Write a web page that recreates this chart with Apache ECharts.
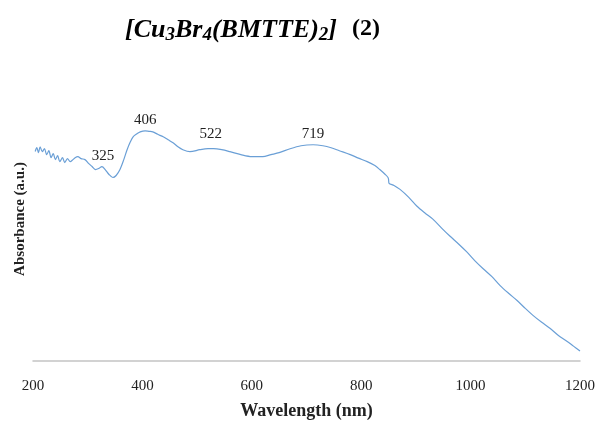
<!DOCTYPE html>
<html>
<head>
<meta charset="utf-8">
<script src="https://cdn.jsdelivr.net/npm/echarts@6/dist/echarts.min.js"></script>
<style>
  html, body { margin: 0; padding: 0; background: #fff; }
  #chart { width: 599px; height: 425px; }
</style>
</head>
<body>
<div id="chart"></div>
<script>
// wavelength (nm) and absorbance (a.u.)
var wavelength = [204,207,210,213,217,221,225,229,233,237,241,245,249,254,258,263,268,273,277,282,
  288,295,302,308,314,320,326,332,339,346,352,359,366,372,378,383,390,396,405,412,
  419,428,438,447,456,465,474,487,505,520,530,545,560,580,600,620,635,650,670,690,
  712,730,745,760,780,795,811,825,834,844,849,850,851,860,871,887,902,917,931,947,
  962,978,993,1008,1023,1039,1054,1070,1085,1100,1114,1130,1145,1160,1176,1188,1200]
var absorbance = [0.845,0.86,0.84,0.864,0.844,0.856,0.832,0.848,0.82,0.836,0.812,0.828,0.804,0.82,0.8,0.816,0.804,0.812,0.82,0.824,
  0.816,0.812,0.796,0.784,0.772,0.776,0.784,0.772,0.752,0.74,0.748,0.772,0.812,0.852,0.884,0.904,0.916,0.924,0.928,0.926,
  0.924,0.914,0.904,0.892,0.88,0.864,0.852,0.844,0.852,0.856,0.856,0.852,0.844,0.832,0.824,0.824,0.832,0.84,0.856,0.868,
  0.872,0.868,0.86,0.848,0.832,0.818,0.804,0.788,0.772,0.752,0.74,0.732,0.716,0.708,0.692,0.66,0.624,0.596,0.572,0.536,
  0.504,0.472,0.44,0.404,0.372,0.34,0.304,0.272,0.244,0.212,0.184,0.156,0.132,0.104,0.08,0.06,0.04]
var peakNames = ['325','406','522','719']
var peakX = [328,405,525,712]
var peakY = [0.784,0.928,0.856,0.872]

var xTicks = [200,400,600,800,1000,1200]

var serif = '"Liberation Serif", "DejaVu Serif", serif'

var points = []
for (var i = 0; i < wavelength.length; i++) {
  points.push([wavelength[i], absorbance[i]])
}
var marks = []
for (var j = 0; j < peakNames.length; j++) {
  var m = { name: peakNames[j], coord: [peakX[j], peakY[j]] }
  if (peakNames[j] == '522') m.label = { distance: 7 }
  marks.push(m)
}

var chart = echarts.init(document.getElementById('chart'))
chart.setOption({
  animation: false,
  title: {
    left: 120,
    top: 12,
    text: '{a|[Cu}{s|3}{a|Br}{s|4}{a|(BMTTE)}{s|2}{a|]} {b|(2)}',
    textStyle: {
      rich: {
        a: { fontFamily: serif, fontSize: 26, fontWeight: 'bold', fontStyle: 'italic', color: '#000', lineHeight: 28, verticalAlign: 'top' },
        s: { fontFamily: serif, fontSize: 19, fontWeight: 'bold', fontStyle: 'italic', color: '#000', lineHeight: 19, verticalAlign: 'bottom' },
        b: { fontFamily: serif, fontSize: 24, fontWeight: 'bold', color: '#000', lineHeight: 28, verticalAlign: 'top', padding: [0, 0, 0, 10] }
      }
    }
  },
  grid: { left: 33, right: 19, top: 113, bottom: 62 },
  xAxis: {
    type: 'value',
    min: 200,
    max: 1200,
    interval: 200,
    name: 'Wavelength (nm)',
    nameLocation: 'middle',
    nameGap: 41,
    nameTextStyle: { fontFamily: serif, fontSize: 18, fontWeight: 'bold', color: '#222' },
    axisLine: { show: true, lineStyle: { color: '#c4c4c4', width: 1.5 } },
    axisTick: { show: false },
    splitLine: { show: false },
    axisLabel: {
      margin: 18,
      fontFamily: serif,
      fontSize: 15,
      color: '#222',
      formatter: function (v) { return xTicks.indexOf(v) >= 0 ? String(v) : '' }
    }
  },
  yAxis: {
    type: 'value',
    min: 0,
    max: 1,
    name: 'Absorbance (a.u.)',
    nameLocation: 'middle',
    nameGap: 5,
    nameTextStyle: { fontFamily: serif, fontSize: 15, fontWeight: 'bold', color: '#222', padding: [0, 0, 0, 36] },
    axisLine: { show: false },
    axisTick: { show: false },
    axisLabel: { show: false },
    splitLine: { show: false }
  },
  series: [{
    type: 'line',
    data: points,
    smooth: 0.3,
    symbol: 'none',
    lineStyle: { color: '#6a9fd6', width: 1.2 },
    markPoint: {
      symbol: 'circle',
      symbolSize: 0,
      label: {
        show: true,
        position: 'top',
        distance: 3,
        fontFamily: serif,
        fontSize: 15,
        color: '#222',
        formatter: '{b}'
      },
      data: marks
    }
  }]
})
</script>
</body>
</html>
